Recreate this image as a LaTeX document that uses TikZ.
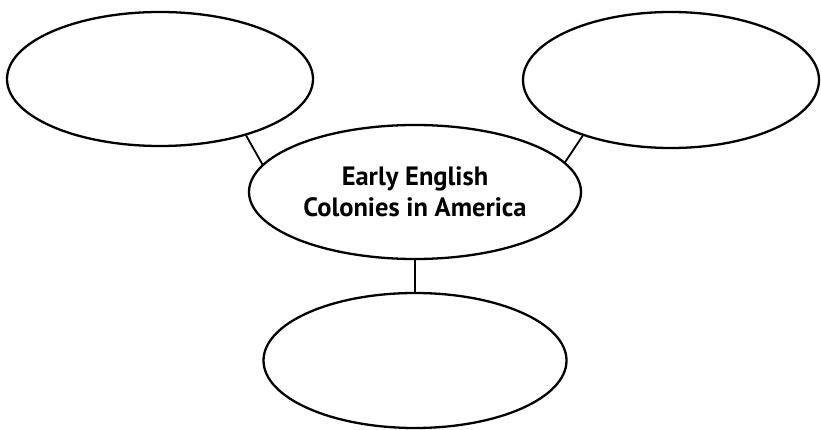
\documentclass[tikz,border=0pt]{standalone}
\usepackage{fontspec}
\setmainfont{PT Sans}
\usetikzlibrary{shapes.geometric}
\begin{document}
\begin{tikzpicture}[x=1pt,y=-1pt,
  bubble/.style={draw=black,line width=2.3pt,ellipse,inner sep=0pt,outer sep=0pt},
  link/.style={draw=black,line width=1.8pt}]
\useasboundingbox (0,0) rectangle (821,430);
\node[bubble,minimum width=306pt,minimum height=134pt] (tl) at (160,79) {};
\node[bubble,minimum width=296pt,minimum height=136pt] (tr) at (671,80) {};
\node[bubble,minimum width=332pt,minimum height=134pt,align=center,
      font=\bfseries\fontsize{26.5}{35}\selectfont] (c) at (415,192) {Early English\\[-4pt]Colonies in America};
\node[bubble,minimum width=303pt,minimum height=135pt] (b) at (415,360.5) {};
\draw[link] (tl.-33.4) -- (c.170.1);
\draw[link] (tr.-148.9) -- (c.11.6);
\draw[link] (c.south) -- (b.north);
\end{tikzpicture}
\end{document}
